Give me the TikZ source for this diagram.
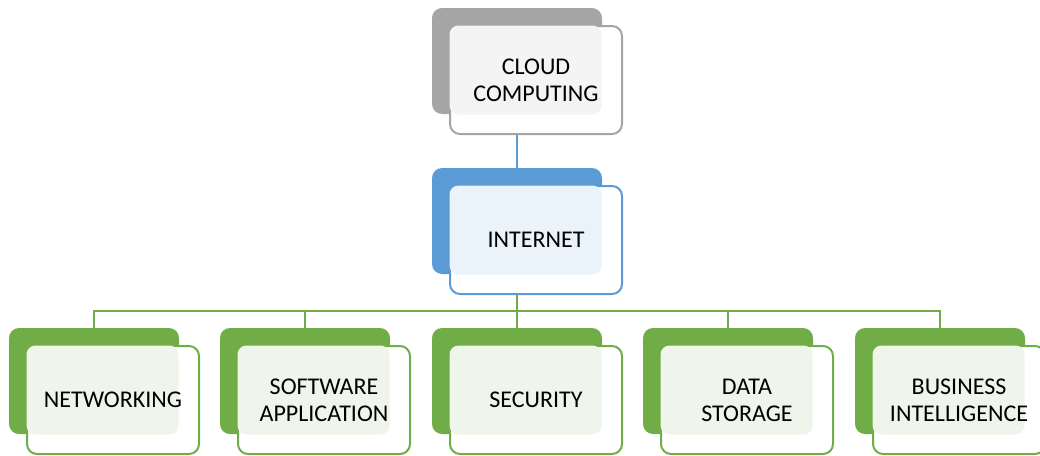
\documentclass[tikz,border=0pt]{standalone}
\usepackage{fontspec}
\setmainfont{Carlito}
\usetikzlibrary{calc}
\pgfdeclarelayer{background}
\pgfsetlayers{background,main}
\definecolor{greyd}{HTML}{A5A5A5}
\definecolor{greyl}{HTML}{F4F4F4}
\definecolor{blued}{HTML}{5B9BD5}
\definecolor{bluel}{HTML}{EBF3FA}
\definecolor{greend}{HTML}{70AD47}
\definecolor{greenl}{HTML}{EFF5EA}
\tikzset{
  backbox/.style={fill=#1, rounded corners=10pt, minimum width=170pt, minimum height=106pt, inner sep=0pt},
  frontbox/.style={draw=#1, fill=white, line width=2pt, rounded corners=10pt, minimum width=172pt, minimum height=108pt, inner sep=0pt},
  tintbox/.style={fill=#1, rounded corners=9pt, minimum width=152pt, minimum height=89pt, inner sep=0pt},
  label/.style={font=\fontsize{24}{27}\selectfont, align=center, text=black, inner sep=0pt},
  link/.style={line width=2pt, draw=#1}
}
% one two-layer box: name, left x, top y, dark colour, tint colour, text
\newcommand{\tierbox}[6]{%
  \node[backbox=#4] (#1b) at ({#2+85},{#3+53}) {};
  \node[frontbox=#4] (#1f) at ({#2+104},{#3+72}) {};
  \node[tintbox=#5] (#1t) at ({#2+93.5},{#3+62}) {};
  \node[label] (#1) at (#1f.center) {#6};
}
\begin{document}
\begin{tikzpicture}[x=1pt,y=-1pt]
\useasboundingbox (0,0) rectangle (1040,455);
\tierbox{cloud}{432}{8}{greyd}{greyl}{CLOUD\\COMPUTING}
\tierbox{inet}{432}{168}{blued}{bluel}{INTERNET}
\tierbox{net}{9}{328}{greend}{greenl}{NETWORKING}
\tierbox{soft}{220}{328}{greend}{greenl}{SOFTWARE\\APPLICATION}
\tierbox{sec}{432}{328}{greend}{greenl}{SECURITY}
\tierbox{data}{643}{328}{greend}{greenl}{DATA\\STORAGE}
\tierbox{bi}{855}{328}{greend}{greenl}{BUSINESS\\INTELLIGENCE}
\begin{pgfonlayer}{background}
  \draw[link=blued] (cloudb.south) -- (inetb.north);
  \coordinate (bus) at ($(inetb.south)+(0,37)$);
  \foreach \c in {net,soft,sec,data,bi}
    \draw[link=greend] (inetb.south) -- (bus) -| (\c b.north);
\end{pgfonlayer}
\end{tikzpicture}
\end{document}
